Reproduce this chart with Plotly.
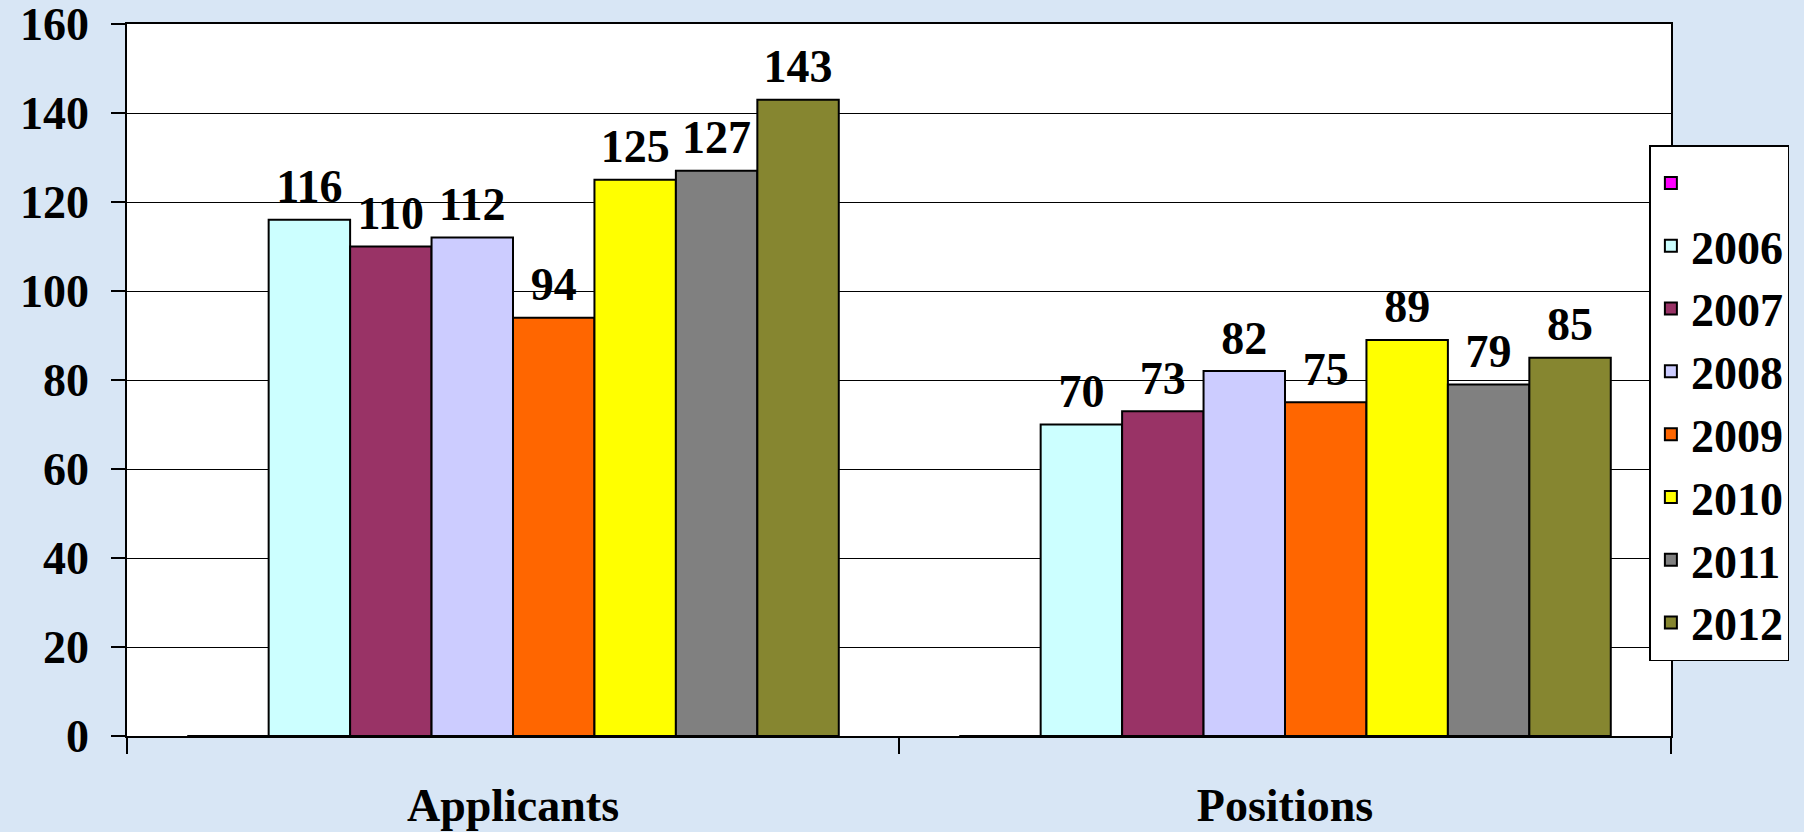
import plotly.graph_objects as go

categories = ["Applicants", "Positions"]
series_names = [" ", "2006", "2007", "2008", "2009", "2010", "2011", "2012"]
series_values = [
    [0, 0],
    [116, 70],
    [110, 73],
    [112, 82],
    [94, 75],
    [125, 89],
    [127, 79],
    [143, 85],
]
series_colors = ["#FF00FF", "#CCFFFF", "#993366", "#CCCCFF", "#FF6600",
                 "#FFFF00", "#808080", "#868630"]
y_ticks = [0, 20, 40, 60, 80, 100, 120, 140, 160]

FONT = "Liberation Serif, Times New Roman, serif"
GAP = 0.156

fig = go.Figure()
for i, (name, vals, col) in enumerate(zip(series_names, series_values, series_colors)):
    fig.add_trace(go.Bar(
        x=categories, y=vals, name=name,
        marker=dict(color=col, line=dict(color="black", width=2)),
        legendgroup=f"g{i}", offsetgroup=f"o{i}",
    ))
# value labels (grouped scatter text, aligned with the bars)
for i, (name, vals) in enumerate(zip(series_names, series_values)):
    fig.add_trace(go.Scatter(
        x=categories, y=vals, mode="markers+text",
        text=[str(v) for v in vals] if i > 0 else ["", ""],
        textposition="top center",
        marker=dict(size=8, opacity=0),
        textfont=dict(family=FONT, size=46, color="black", weight="bold"),
        showlegend=False, hoverinfo="skip", cliponaxis=False,
        offsetgroup=f"o{i}",
    ))

fig.update_layout(
    width=1804, height=832,
    margin=dict(l=127, r=133, t=24, b=96),
    paper_bgcolor="#d8e6f5",
    plot_bgcolor="white",
    barmode="group", bargap=GAP, bargroupgap=0,
    scattermode="group", scattergap=GAP,
    font=dict(family=FONT, size=46, color="black", weight="bold"),
    showlegend=True,
    legend=dict(
        x=0.986, xanchor="left", y=0.830, yanchor="top",
        bgcolor="white", bordercolor="black", borderwidth=1.5,
        font=dict(family=FONT, size=46, color="black", weight="bold"),
        tracegroupgap=19,
        traceorder="normal",
    ),
    xaxis=dict(
        type="category", showgrid=False, automargin=False,
        showline=True, linecolor="black", linewidth=1.5, mirror=True,
        ticks="outside", ticklen=16, tickcolor="black", tickwidth=1.5,
        tickson="boundaries", ticklabelstandoff=28, ticklabeloverflow="allow",
        tickfont=dict(family=FONT, size=46, color="black", weight="bold"),
    ),
    yaxis=dict(
        range=[0, 160], tickvals=y_ticks, automargin=False,
        showgrid=True, gridcolor="black", gridwidth=1,
        showline=True, linecolor="black", linewidth=1.5, mirror=True,
        ticks="outside", ticklen=14, tickcolor="black", tickwidth=1.5,
        ticklabelstandoff=13, zeroline=False, ticklabeloverflow="allow",
        tickfont=dict(family=FONT, size=46, color="black", weight="bold"),
    ),
)

fig.write_html("out.html", config={"displayModeBar": False},
               post_script="document.body.style.margin='0';document.body.style.overflow='hidden';")
